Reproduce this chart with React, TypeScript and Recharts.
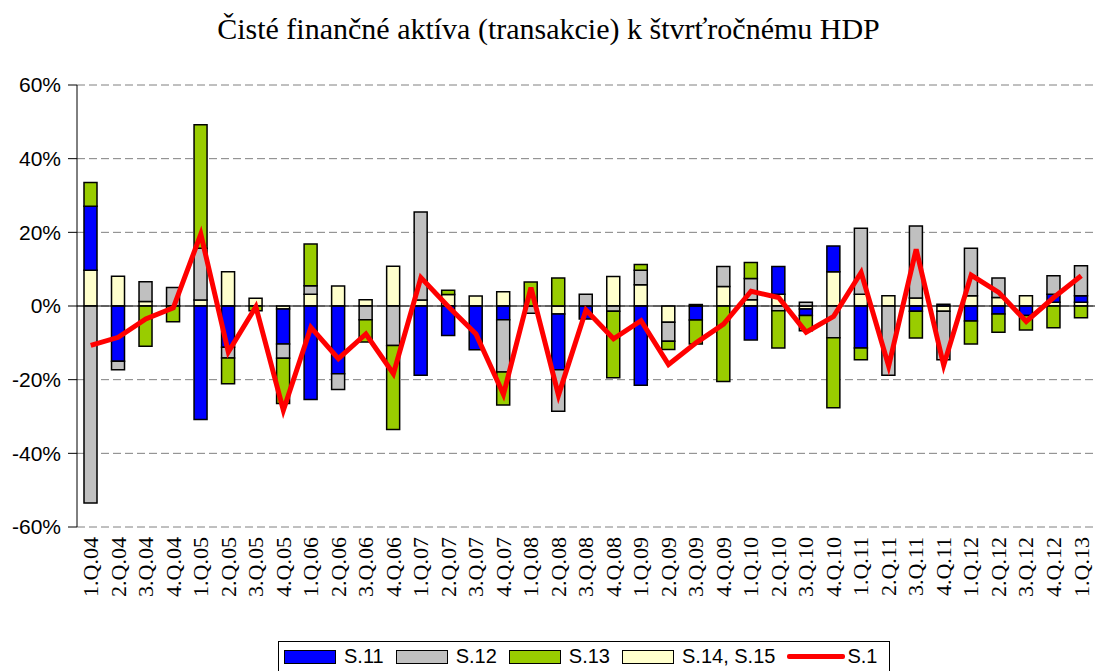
import {
    ComposedChart,
    Bar,
    Line,
    XAxis,
    YAxis,
    CartesianGrid,
    ReferenceLine,
} from "recharts";

const quarters = [
    "1.Q.04", "2.Q.04", "3.Q.04", "4.Q.04",
    "1.Q.05", "2.Q.05", "3.Q.05", "4.Q.05",
    "1.Q.06", "2.Q.06", "3.Q.06", "4.Q.06",
    "1.Q.07", "2.Q.07", "3.Q.07", "4.Q.07",
    "1.Q.08", "2.Q.08", "3.Q.08", "4.Q.08",
    "1.Q.09", "2.Q.09", "3.Q.09", "4.Q.09",
    "1.Q.10", "2.Q.10", "3.Q.10", "4.Q.10",
    "1.Q.11", "2.Q.11", "3.Q.11", "4.Q.11",
    "1.Q.12", "2.Q.12", "3.Q.12", "4.Q.12",
    "1.Q.13",
];

// S.11
const s11 = [
    17.4, -15.0, 0, 0, -30.8, -11.2, 0, -9.5, -25.4, -18.4, 0, 0,
    -18.8, -8.0, -11.9, -3.7, 0, -15.1, -3.5, 0, -21.5, 0, -3.8, 0,
    -9.2, 7.5, -1.8, 7.0, -11.4, 0, -1.4, 0.5, -4.1, -2.2, -2.6, 2.2, 1.8,
];
// S.12
const s12 = [
    -53.5, -2.3, 5.4, 5.0, 14.1, -2.9, 0, -3.9, 2.3, -4.3, -3.7, -10.7,
    23.9, 0, 0, -14.2, -2.0, -11.3, 3.2, -1.4, 3.9, -5.2, 0.4, 5.4,
    5.8, -1.3, 1.0, -8.6, 17.9, -18.8, 19.5, -13.2, 12.9, 5.3, 0, 5.0, 8.1,
];
// S.13
const s13 = [
    6.4, 0, -10.9, -4.3, 33.5, -7.0, -1.3, -12.3, 11.3, 0, -6.1, -22.8,
    0, 1.2, 0, -9.0, 6.5, 7.6, 0, -18.1, 1.6, -2.2, -6.5, -20.5,
    4.3, -10.1, -4.1, -19.0, -3.2, 0, -7.3, 0, -6.2, -4.9, -3.9, -5.9, -3.2,
];
// S.14, S.15
const s1415 = [
    9.7, 8.1, 1.2, 0, 1.6, 9.3, 2.1, -0.8, 3.2, 5.4, 1.7, 10.8,
    1.6, 3.1, 2.7, 3.9, 0, -2.2, 0, 8.0, 5.8, -4.4, 0, 5.3,
    1.7, 3.2, -0.8, 9.3, 3.2, 2.8, 2.2, -1.4, 2.8, 2.3, 2.8, 1.0, 1.0,
];
// S.1
const s1 = [
    -10.7, -8.5, -3.5, -0.5, 19.5, -12.5, -0.2, -28.3, -5.8, -14.3, -7.6, -18.4,
    7.7, -0.2, -7.6, -24.0, 5.0, -24.2, -1.1, -8.9, -4.0, -15.9, -10.0, -4.9,
    4.0, 2.3, -7.1, -2.8, 9.1, -16.3, 15.4, -16.1, 8.4, 3.7, -4.2, 2.3, 8.2,
];

const yTicks = [-60, -40, -20, 0, 20, 40, 60];

const data = quarters.map((q, i) => ({
    q,
    s11: s11[i],
    s12: s12[i],
    s13: s13[i],
    s1415: s1415[i],
    s1: s1[i],
}));

const legendItems = [
    { name: "S.11", fill: "#0000ff" },
    { name: "S.12", fill: "#c0c0c0" },
    { name: "S.13", fill: "#99cc00" },
    { name: "S.14, S.15", fill: "#ffffcc" },
];

function QuarterTick({ x, y, payload }: any) {
    return (
        <g transform={`translate(${x},${y})`}>
            <text
                transform="rotate(-90)"
                x={0}
                y={0}
                dy="0.33em"
                textAnchor="end"
                fontFamily="'Liberation Serif', serif"
                fontSize={22}
                fill="#000"
            >
                {payload.value}
            </text>
        </g>
    );
}

export default function App() {
    return (
        <div style={{ position: "absolute", left: 0, top: 0, width: 1097, height: 671, background: "#fff" }}>
            <div
                style={{
                    position: "absolute",
                    top: 12,
                    left: 0,
                    width: 1097,
                    textAlign: "center",
                    fontFamily: "'Liberation Serif', serif",
                    fontSize: 30,
                    color: "#000",
                }}
            >
                Čisté finančné aktíva (transakcie) k štvrťročnému HDP
            </div>

            <ComposedChart
                width={1097}
                height={671}
                data={data}
                stackOffset="sign"
                margin={{ top: 85, right: 2, bottom: 54, left: 0 }}
                barSize={13}
            >
                <CartesianGrid
                    vertical={false}
                    stroke="#808080"
                    strokeDasharray="8 4"
                />
                <XAxis
                    dataKey="q"
                    height={90}
                    interval={0}
                    axisLine={false}
                    tickLine={false}
                    tick={<QuarterTick />}
                    tickMargin={4}
                />
                <YAxis
                    domain={[-60, 60]}
                    ticks={yTicks}
                    width={77}
                    tickFormatter={(v: number) => `${v}%`}
                    axisLine={{ stroke: "#000" }}
                    tickLine={{ stroke: "#000" }}
                    tickSize={9}
                    tickMargin={7}
                    tick={{ fill: "#000", fontSize: 21, fontFamily: "'Liberation Sans', Arial, sans-serif" }}
                />
                <ReferenceLine y={0} stroke="#000" strokeWidth={1.2} />

                <Bar dataKey="s1415" name="S.14, S.15" stackId="a" fill="#ffffcc" stroke="#000" strokeWidth={1.5} isAnimationActive={false} />
                <Bar dataKey="s11" name="S.11" stackId="a" fill="#0000ff" stroke="#000" strokeWidth={1.5} isAnimationActive={false} />
                <Bar dataKey="s12" name="S.12" stackId="a" fill="#c0c0c0" stroke="#000" strokeWidth={1.5} isAnimationActive={false} />
                <Bar dataKey="s13" name="S.13" stackId="a" fill="#99cc00" stroke="#000" strokeWidth={1.5} isAnimationActive={false} />

                <Line
                    type="linear"
                    dataKey="s1"
                    name="S.1"
                    stroke="#ff0000"
                    strokeWidth={5}
                    dot={false}
                    isAnimationActive={false}
                />
            </ComposedChart>

            {/* legend box */}
            <div
                style={{
                    position: "absolute",
                    left: 278,
                    top: 641,
                    width: 612,
                    height: 40,
                    border: "1px solid #000",
                    boxSizing: "border-box",
                    display: "flex",
                    alignItems: "flex-start",
                    paddingTop: 3,
                    paddingLeft: 5,
                    fontFamily: "'Liberation Sans', Arial, sans-serif",
                    fontSize: 20,
                    color: "#000",
                }}
            >
                {legendItems.map((it) => (
                    <div key={it.name} style={{ display: "flex", alignItems: "center", marginRight: 12 }}>
                        <span
                            style={{
                                display: "inline-block",
                                width: 50,
                                height: 12,
                                background: it.fill,
                                border: "1.5px solid #000",
                                marginRight: 8,
                            }}
                        />
                        <span>{it.name}</span>
                    </div>
                ))}
                <div style={{ display: "flex", alignItems: "center" }}>
                    <span
                        style={{
                            display: "inline-block",
                            width: 58,
                            height: 5,
                            background: "#ff0000",
                            borderRadius: 2,
                            marginRight: 2,
                        }}
                    />
                    <span>S.1</span>
                </div>
            </div>
        </div>
    );
}
